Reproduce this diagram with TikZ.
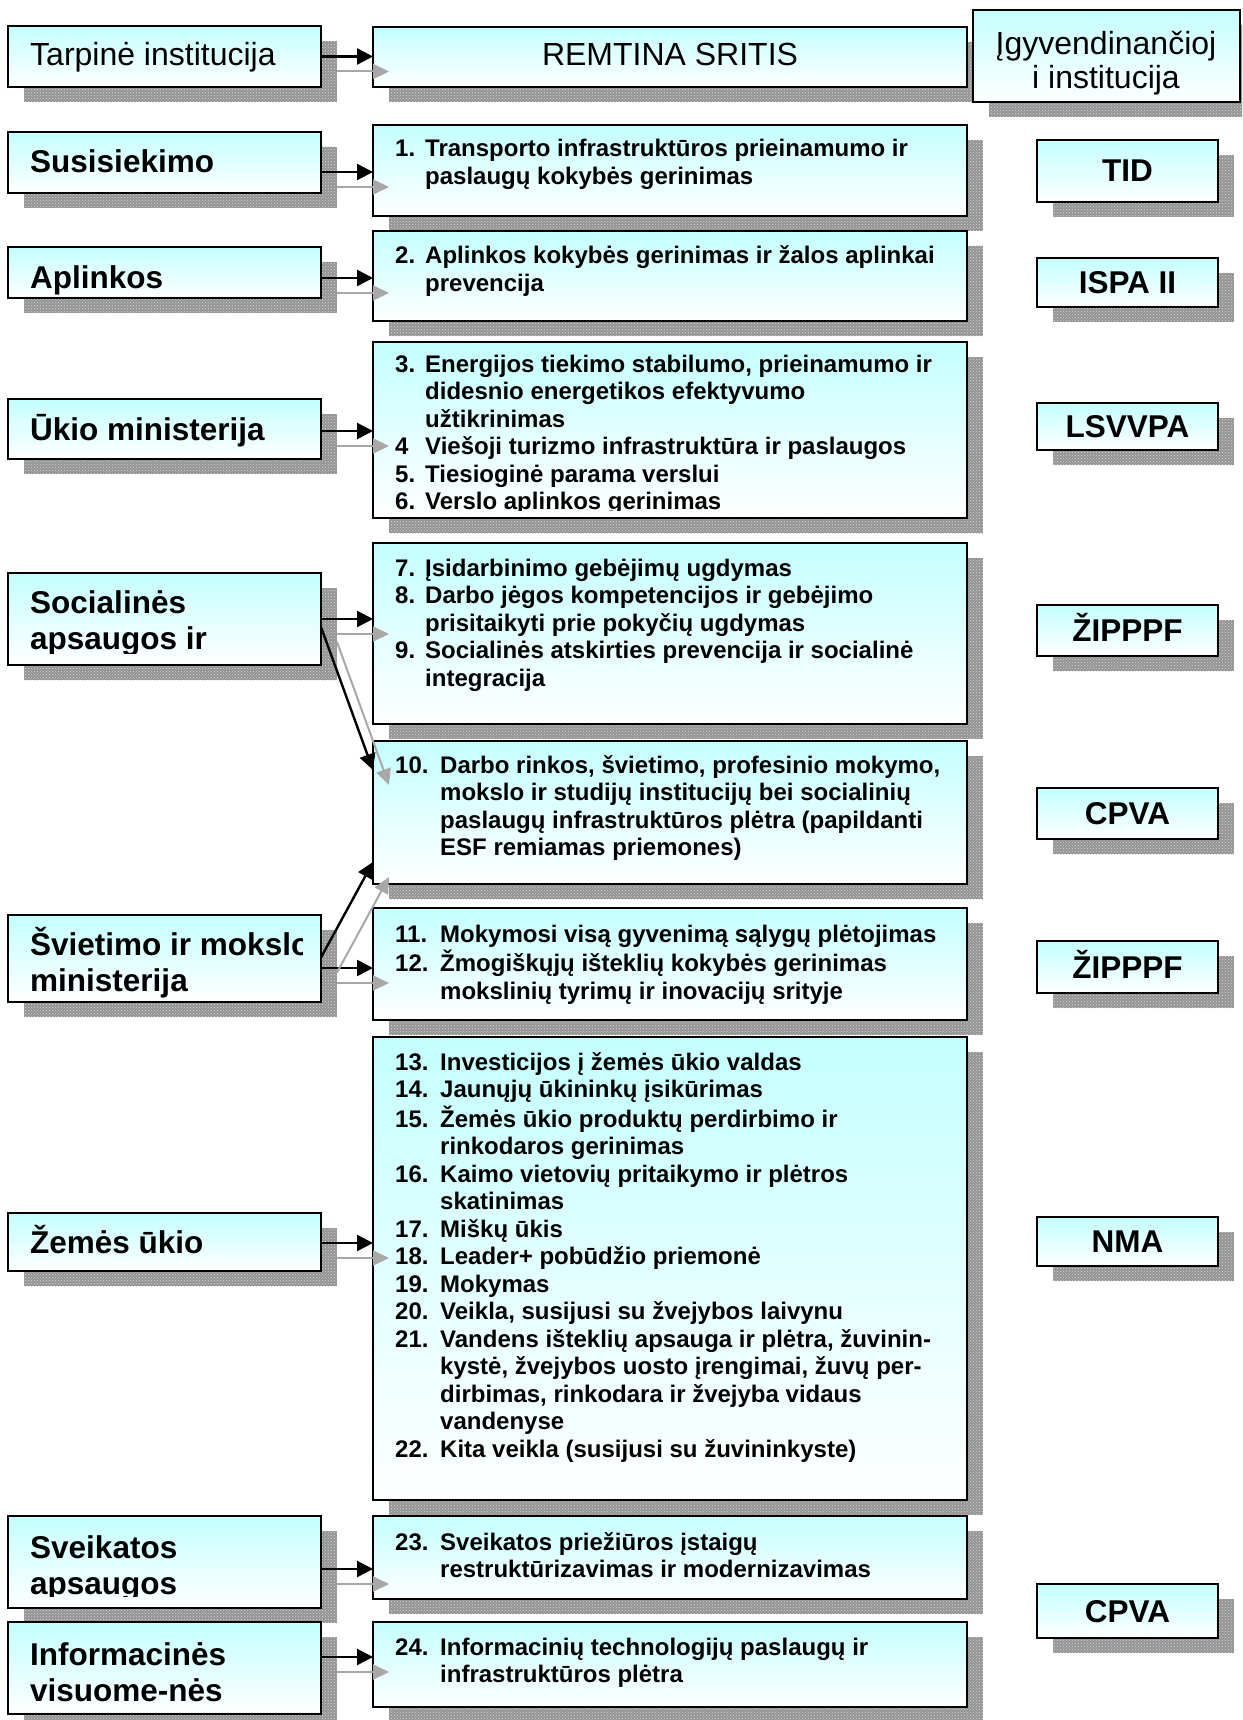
\documentclass[tikz,border=0pt]{standalone}
\usepackage{fontspec}
\setmainfont{Liberation Sans}
\usetikzlibrary{arrows.meta,patterns}
\definecolor{boxtop}{RGB}{196,255,255}
\definecolor{shad}{RGB}{148,148,148}
\definecolor{shaddot}{RGB}{214,214,214}
\definecolor{sarrc}{RGB}{168,168,168}
\tikzset{
 panel/.style={draw=black, line width=2.4pt, top color=boxtop, bottom color=white, inner sep=0pt, outer sep=0pt, anchor=north west},
 shadowbox/.style={fill=shad},
 shadowdots/.style={pattern=crosshatch dots, pattern color=shaddot},
 arr/.style={line width=2.4pt, -{Triangle[length=16pt,width=16pt]}},
 sarr/.style={line width=2pt, draw=sarrc, -{Triangle[length=16pt,width=15pt,fill=sarrc]}},
 lbl/.style={font=\fontsize{31.5}{36.5}\selectfont\bfseries, anchor=base west, inner sep=0pt},
 hdr/.style={font=\fontsize{32}{37}\selectfont, inner sep=0pt},
 hdrtwo/.style={font=\fontsize{32}{34}\selectfont, inner sep=0pt},
 lst/.style={font=\fontsize{24}{27.5}\selectfont\bfseries, anchor=base west, inner sep=0pt},
 rlbl/.style={font=\fontsize{31.5}{36.5}\selectfont\bfseries, anchor=base, inner sep=0pt},
}
\newcommand\mkbox[5]{%
 \fill[shadowbox] (#2+16,#3+15) rectangle (#4+16,#5+15);
 \fill[shadowdots] (#2+16,#3+15) rectangle (#4+16,#5+15);
 \node[panel, minimum width=#4-#2, minimum height=#5-#3] (#1) at (#2,#3) {};}
\newcommand\conn[3]{%
 \path ([yshift=#3pt]#1.east) coordinate (#1-#2-a);
 \path (#1-#2-a -| #2.west) coordinate (#1-#2-b);
 \draw[sarr] ([xshift=16pt,yshift=-15pt]#1-#2-a) -- ([xshift=16pt,yshift=-15pt]#1-#2-b);
 \draw[arr] (#1-#2-a) -- (#1-#2-b);}
\newcommand\rl[2]{\node[rlbl] (#1-t) at ([yshift=-11pt]#1.center) {#2};}
\begin{document}
\begin{tikzpicture}[x=1pt,y=-1pt]
\useasboundingbox (0,0) rectangle (1242,1720);
\clip (0,0) rectangle (1242,1720);
% left boxes
\mkbox{tarp}{8}{26}{321}{87}
\mkbox{sus}{8}{132}{321}{193}
\mkbox{apl}{8}{247}{321}{298}
\mkbox{uk}{8}{399}{321}{459}
\mkbox{soc}{8}{573}{321}{665}
\mkbox{svi}{8}{915}{321}{1002}
\mkbox{zem}{8}{1213}{321}{1271}
\mkbox{sve}{8}{1516}{321}{1608}
\mkbox{inf}{8}{1622}{321}{1714}
% middle boxes
\mkbox{rem}{373}{27}{967}{87}
\mkbox{b1}{373}{125}{967}{216}
\mkbox{b2}{373}{231}{967}{321}
\mkbox{b3}{373}{342}{967}{518}
\mkbox{b7}{373}{543}{967}{724}
\mkbox{b10}{373}{741}{967}{884}
\mkbox{b11}{373}{908}{967}{1020}
\mkbox{b13}{373}{1037}{967}{1500}
\mkbox{b23}{373}{1516}{967}{1599}
\mkbox{b24}{373}{1622}{967}{1707}
% right boxes
\mkbox{igy}{973}{10}{1240}{102}
\mkbox{tid}{1037}{140}{1218}{202}
\mkbox{ispa}{1037}{258}{1218}{307}
\mkbox{lsv}{1037}{403}{1218}{450}
\mkbox{zip1}{1037}{605}{1218}{656}
\mkbox{cpva1}{1037}{788}{1218}{839}
\mkbox{zip2}{1037}{941}{1218}{993}
\mkbox{nma}{1037}{1217}{1218}{1266}
\mkbox{cpva2}{1037}{1584}{1218}{1638}
% left texts
\node[hdr, anchor=base west] (l-tarp) at (30,66) {Tarpinė institucija};
\node[lbl] (l-sus) at (30,173) {Susisiekimo};
\node[lbl] (l-apl) at (30,288) {Aplinkos};
\node[lbl] (l-uk) at (30,440) {Ūkio ministerija};
\begin{scope}
\clip (8,573) rectangle (307,653);
\node[lbl] (l-soc) at (30,613) {\begin{tabular}[t]{@{}l@{}}Socialinės\\apsaugos ir\end{tabular}};
\end{scope}
\begin{scope}
\clip (8,915) rectangle (302,1002);
\node[lbl] (l-svi) at (30,955) {\begin{tabular}[t]{@{}l@{}}Švietimo ir mokslo\\ministerija\end{tabular}};
\end{scope}
\node[lbl] (l-zem) at (30,1253) {Žemės ūkio};
\begin{scope}
\clip (8,1516) rectangle (321,1596);
\node[lbl] (l-sve) at (30,1558) {\begin{tabular}[t]{@{}l@{}}Sveikatos\\apsaugos\end{tabular}};
\end{scope}
\node[lbl] (l-inf) at (30,1665) {\begin{tabular}[t]{@{}l@{}}Informacinės\\visuome-nės\end{tabular}};
% header texts
\node[hdr, anchor=base] (r-rem) at (670,66) {REMTINA SRITIS};
\node[hdrtwo, anchor=base] (r-igy) at (1106,55) {\begin{tabular}[t]{@{}c@{}}Įgyvendinančioj\\i institucija\end{tabular}};
% right labels
\rl{tid}{TID}
\rl{ispa}{ISPA II}
\rl{lsv}{LSVVPA}
\rl{zip1}{ŽIPPPF}
\rl{cpva1}{CPVA}
\rl{zip2}{ŽIPPPF}
\rl{nma}{NMA}
\rl{cpva2}{CPVA}
% list texts
\node[lst] (t1) at (395,157) {\begin{tabular}[t]{@{}p{30pt}@{}l@{}}1. & Transporto infrastruktūros prieinamumo ir\\ & paslaugų kokybės gerinimas\end{tabular}};
\node[lst] (t2) at (395,264) {\begin{tabular}[t]{@{}p{30pt}@{}l@{}}2. & Aplinkos kokybės gerinimas ir žalos aplinkai\\ & prevencija\end{tabular}};
\begin{scope}
\clip (373,342) rectangle (967,510);
\node[lst] (t3) at (395,372) {\begin{tabular}[t]{@{}p{30pt}@{}l@{}}3. & Energijos tiekimo stabilumo, prieinamumo ir\\ & didesnio energetikos efektyvumo\\ & užtikrinimas\\4 & Viešoji turizmo infrastruktūra ir paslaugos\\5. & Tiesioginė parama verslui\\6. & Verslo aplinkos gerinimas\end{tabular}};
\end{scope}
\node[lst] (t7) at (395,576) {\begin{tabular}[t]{@{}p{30pt}@{}l@{}}7. & Įsidarbinimo gebėjimų ugdymas\\8. & Darbo jėgos kompetencijos ir gebėjimo\\ & prisitaikyti prie pokyčių ugdymas\\9. & Socialinės atskirties prevencija ir socialinė\\ & integracija\end{tabular}};
\node[lst] (t10) at (395,773) {\begin{tabular}[t]{@{}p{45pt}@{}l@{}}10. & Darbo rinkos, švietimo, profesinio mokymo,\\ & mokslo ir studijų institucijų bei socialinių\\ & paslaugų infrastruktūros plėtra (papildanti\\ & ESF remiamas priemones)\end{tabular}};
\node[lst] (t11) at (395,942) {\begin{tabular}[t]{@{}p{45pt}@{}l@{}}11. & Mokymosi visą gyvenimą sąlygų plėtojimas\\12. & Žmogiškųjų išteklių kokybės gerinimas\\ & mokslinių tyrimų ir inovacijų srityje\end{tabular}};
\node[lst] (t13) at (395,1070) {\begin{tabular}[t]{@{}p{45pt}@{}l@{}}13. & Investicijos į žemės ūkio valdas\\14. & Jaunųjų ūkininkų įsikūrimas\\15. & Žemės ūkio produktų perdirbimo ir\\ & rinkodaros gerinimas\\16. & Kaimo vietovių pritaikymo ir plėtros\\ & skatinimas\\17. & Miškų ūkis\\18. & Leader+ pobūdžio priemonė\\19. & Mokymas\\20. & Veikla, susijusi su žvejybos laivynu\\21. & Vandens išteklių apsauga ir plėtra, žuvinin-\\ & kystė, žvejybos uosto įrengimai, žuvų per-\\ & dirbimas, rinkodara ir žvejyba vidaus\\ & vandenyse\\22. & Kita veikla (susijusi su žuvininkyste)\end{tabular}};
\node[lst] (t23) at (395,1550) {\begin{tabular}[t]{@{}p{45pt}@{}l@{}}23. & Sveikatos priežiūros įstaigų\\ & restruktūrizavimas ir modernizavimas\end{tabular}};
\node[lst] (t24) at (395,1655) {\begin{tabular}[t]{@{}p{45pt}@{}l@{}}24. & Informacinių technologijų paslaugų ir\\ & infrastruktūros plėtra\end{tabular}};
% connectors
\conn{tarp}{rem}{0}
\conn{sus}{b1}{-9.5}
\conn{apl}{b2}{-5.5}
\conn{uk}{b3}{-2}
\conn{soc}{b7}{0}
\conn{svi}{b11}{-9.5}
\conn{zem}{b13}{-1}
\conn{sve}{b23}{-7}
\conn{inf}{b24}{11}
% slanted connectors
\path ([yshift=-8pt]soc.east) coordinate (sa);
\path ([yshift=-29pt]b10.north west) coordinate (sb);
\draw[sarr] ([xshift=16pt,yshift=-15pt]sa) -- ([xshift=16pt,yshift=-15pt]sb);
\draw[arr] (sa) -- (sb);
\path ([yshift=1pt]svi.east) coordinate (va);
\path ([yshift=22pt]b10.south west) coordinate (vb);
\draw[sarr] ([xshift=16pt,yshift=-15pt]va) -- ([xshift=16pt,yshift=-15pt]vb);
\draw[arr] (va) -- (vb);
\end{tikzpicture}
\end{document}
